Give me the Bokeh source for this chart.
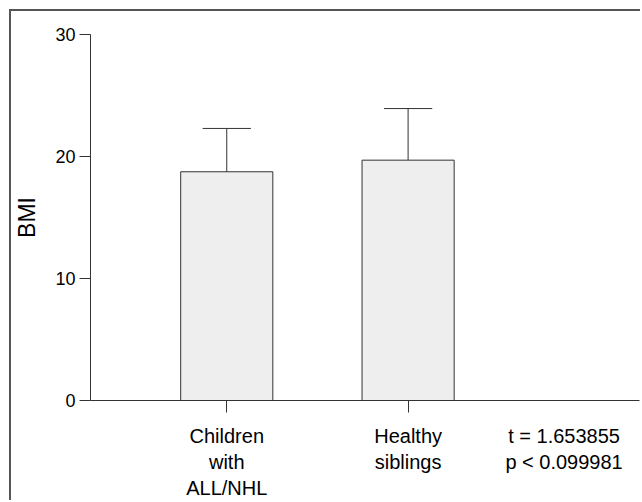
from bokeh.plotting import figure
from bokeh.models import Range1d, FixedTicker, LinearAxis
from bokeh.embed import file_html
from bokeh.resources import INLINE

# data
categories = ["Children\nwith\nALL/NHL", "Healthy\nsiblings"]
positions = [1, 2]
means = [18.75, 19.7]
upper = [22.3, 23.93]
y_ticks = [0, 10, 20, 30]
stat_text = "t = 1.653855\np < 0.099981"
stat_position = 2.86

FONT = "Liberation Sans"
INK = "#333333"

p = figure(width=631, height=491, output_backend="svg", toolbar_location=None,
           x_range=Range1d(0.2486, 3.276), y_range=Range1d(0, 30),
           min_border_left=78, min_border_right=3, min_border_top=23, min_border_bottom=100)
p.styles = {"margin-left": "9px", "margin-top": "9px",
            "border-left": "2px solid #555555", "border-top": "2px solid #555555"}
p.outline_line_color = None
p.xgrid.grid_line_color = None
p.ygrid.grid_line_color = None
p.background_fill_color = "white"

p.vbar(x=positions, top=means, bottom=0, width=0.508, fill_color="#eeeeee",
       line_color=INK, line_width=1)
p.segment(x0=positions, y0=means, x1=positions, y1=upper, line_color=INK, line_width=1)
p.segment(x0=[x - 0.133 for x in positions], y0=upper,
          x1=[x + 0.133 for x in positions], y1=upper, line_color=INK, line_width=1)

# axis with the axis line and category ticks only
xa = p.xaxis[0]
xa.ticker = FixedTicker(ticks=positions)
xa.major_label_overrides = {pos: "" for pos in positions}
xa.major_label_text_font_size = "1px"
xa.major_label_text_color = None
xa.major_label_standoff = 0
xa.major_tick_out = 12
xa.major_tick_in = 0
xa.minor_tick_line_color = None
xa.axis_line_color = INK
xa.major_tick_line_color = INK

# axis holding the texts below
label_ticks = positions + [stat_position]
label_texts = categories + [stat_text]
xb = LinearAxis(ticker=FixedTicker(ticks=label_ticks),
                major_label_overrides={t: s for t, s in zip(label_ticks, label_texts)},
                axis_line_color=None, major_tick_line_color=None, minor_tick_line_color=None,
                major_tick_out=0, major_tick_in=0,
                major_label_text_font=FONT, major_label_text_font_size="20px",
                major_label_text_color="black", major_label_standoff=12)
p.add_layout(xb, "below")

ya = p.yaxis[0]
ya.ticker = FixedTicker(ticks=y_ticks)
ya.major_tick_out = 11
ya.major_tick_in = 0
ya.minor_tick_line_color = None
ya.axis_line_color = INK
ya.major_tick_line_color = INK
ya.major_label_text_font = FONT
ya.major_label_text_font_size = "18px"
ya.major_label_text_color = "black"
ya.major_label_standoff = 4
ya.axis_label = "BMI"
ya.axis_label_text_font = FONT
ya.axis_label_text_font_size = "23px"
ya.axis_label_text_font_style = "normal"
ya.axis_label_text_color = "black"
ya.axis_label_standoff = 12

open("out.html", "w").write(file_html(p, INLINE))
